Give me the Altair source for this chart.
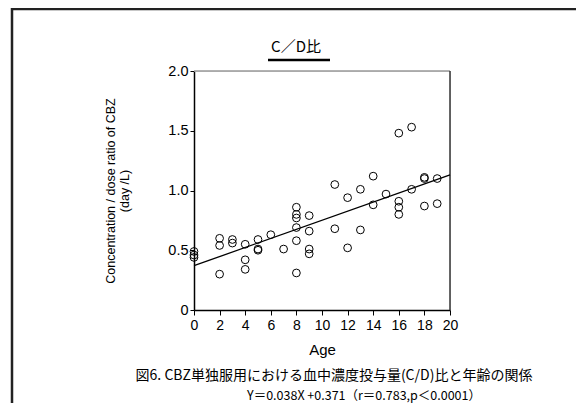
import altair as alt
import pandas as pd

ages = [0, 0, 0, 2, 2, 2, 3, 3, 4, 4, 4, 5, 5, 5, 6, 7,
        8, 8, 8, 8, 8, 8, 9, 9, 9, 9, 11, 11, 12, 12, 13, 13,
        14, 14, 15, 16, 16, 16, 16, 17, 17, 18, 18, 18, 19, 19]
ratios = [0.49, 0.46, 0.44, 0.60, 0.54, 0.30, 0.59, 0.56, 0.55, 0.42, 0.34,
          0.59, 0.51, 0.50, 0.63, 0.51,
          0.86, 0.80, 0.77, 0.69, 0.58, 0.31, 0.79, 0.66, 0.51, 0.47,
          1.05, 0.68, 0.94, 0.52, 1.01, 0.67,
          1.12, 0.88, 0.97, 1.48, 0.91, 0.86, 0.80, 1.53, 1.01,
          1.11, 1.10, 0.87, 1.10, 0.89]

slope = 0.038
intercept = 0.371
line_x = [0, 20]
x_ticks = [0.0, 2.0, 4.0, 6.0, 8.0, 10.0, 12.0, 14.0, 16.0, 18.0, 20.0]
y_ticks = [0, 0.5, 1.0, 1.5, 2.0]

title_text = "C／D比"
caption_text = "図6. CBZ単独服用における血中濃度投与量(C/D)比と年齢の関係"
formula_text = "Y＝0.038X +0.371（r＝0.783,p＜0.0001）"
y_title = ["Concentration / dose ratio of CBZ", "(day /L)"]

pts = pd.DataFrame({"age": [float(a) for a in ages], "ratio": ratios})
reg = pd.DataFrame({"age": [float(v) for v in line_x],
                    "ratio": [slope * v + intercept for v in line_x]})
one = pd.DataFrame({"k": [0]})

W, H = 256, 239

xs = alt.Scale(domain=[0, 20], nice=False, zero=False)
ys = alt.Scale(domain=[0, 2], nice=False)

x_axis = alt.Axis(
    values=x_ticks, tickMinStep=2, title="Age", grid=False, domainColor="black", domainWidth=1.5,
    tickColor="black", tickSize=5, labelFontSize=14, labelColor="black",
    labelExpr="datum.value % 2 == 0 ? format(datum.value, 'd') : ''",
    labelPadding=3, labelOverlap=False, titleFontSize=15, titleFontWeight="normal",
    titleColor="black", titlePadding=10, labelFlush=False)
y_axis = alt.Axis(
    values=y_ticks, title=y_title, grid=False, domainColor="black", domainWidth=1.5,
    tickColor="black", tickSize=4, labelFontSize=14.5, labelColor="black",
    labelOverlap=False,
    labelExpr="datum.value == 0 ? '0' : format(datum.value, '.1f')",
    labelPadding=2, titleFontSize=12.5, titleFontWeight="normal", titleColor="black",
    titlePadding=36, labelFlush=False)

points = alt.Chart(pts).mark_point(filled=False, color="black", size=60, strokeWidth=1, opacity=1).encode(
    x=alt.X("age:Q", scale=xs, axis=x_axis),
    y=alt.Y("ratio:Q", scale=ys, axis=y_axis),
)

line = alt.Chart(reg).mark_line(color="black", strokeWidth=1.3).encode(
    x=alt.X("age:Q", scale=xs, axis=x_axis), y=alt.Y("ratio:Q", scale=ys, axis=y_axis))

frame_top = alt.Chart(one).mark_rule(color="#999", strokeWidth=1.5).encode(
    x=alt.value(0), x2=alt.value(W), y=alt.value(0))
frame_right = alt.Chart(one).mark_rule(color="#333", strokeWidth=1.5).encode(
    x=alt.value(W), y=alt.value(0), y2=alt.value(H))

border_top = alt.Chart(one).mark_rule(color="#222", strokeWidth=2.5).encode(
    x=alt.value(-182), x2=alt.value(400), y=alt.value(-62))
border_left = alt.Chart(one).mark_rule(color="#222", strokeWidth=2.5).encode(
    x=alt.value(-182), y=alt.value(-63), y2=alt.value(360))

title = alt.Chart(one).mark_text(font="Noto Sans CJK JP", fontSize=15, color="black",
                                 align="center", baseline="middle").encode(
    x=alt.value(102), y=alt.value(-24), text=alt.value(title_text))
underline = alt.Chart(one).mark_rule(color="black", strokeWidth=2.5).encode(
    x=alt.value(74), x2=alt.value(136), y=alt.value(-11))

caption = alt.Chart(one).mark_text(font="Noto Sans CJK JP", fontSize=14, color="black",
                                   align="center", baseline="middle").encode(
    x=alt.value(140), y=alt.value(305), text=alt.value(caption_text))
formula = alt.Chart(one).mark_text(font="Noto Sans CJK JP", fontSize=12.5, color="black",
                                   align="center", baseline="middle").encode(
    x=alt.value(170), y=alt.value(325), text=alt.value(formula_text))

chart = alt.layer(border_top, border_left, frame_top, frame_right, points, line,
                  title, underline, caption, formula).properties(
    width=W, height=H,
    autosize=alt.AutoSizeParams(type="none"),
    padding={"left": 186, "top": 63, "right": 126, "bottom": 93},
).configure_view(stroke=None).configure(font="Liberation Sans", background="white")

chart.save("out.html", embed_options={"renderer": "svg", "actions": False})
